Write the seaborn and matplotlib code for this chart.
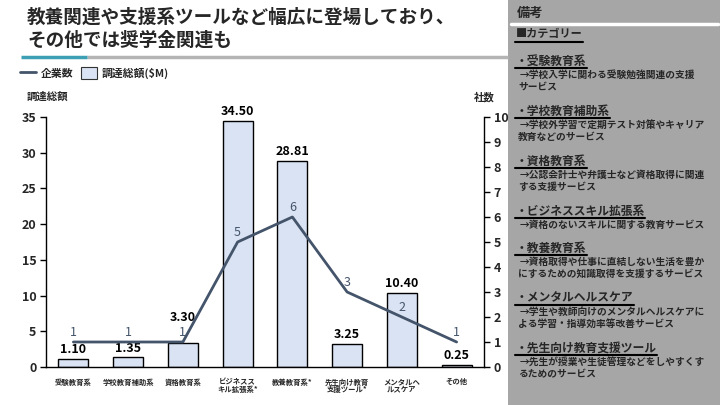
import numpy as np
import pandas as pd
import matplotlib
matplotlib.use("Agg")
import matplotlib.pyplot as plt
import seaborn as sns
from matplotlib.lines import Line2D
from matplotlib.patches import Patch, Rectangle

# ---- data ----
categories = ["受験教育系", "学校教育補助系", "資格教育系", "ビジネスス\nキル拡張系*",
              "教養教育系*", "先生向け教育\n支援ツール*", "メンタルヘ\nルスケア", "その他"]
amounts = [1.10, 1.35, 3.30, 34.50, 28.81, 3.25, 10.40, 0.25]
counts = [1, 1, 1, 5, 6, 3, 2, 1]
amount_ticks = [0, 5, 10, 15, 20, 25, 30, 35]
count_ticks = [0, 1, 2, 3, 4, 5, 6, 7, 8, 9, 10]

title_lines = ["教養関連や支援系ツールなど幅広に登場しており、", "その他では奨学金関連も"]
legend_labels = ["企業数", "調達総額($M)"]
left_label = "調達総額"
right_label = "社数"

notes_title = "備考"
notes_header = "■カテゴリー"
notes = [
    ("・受験教育系", ["→学校入学に関わる受験勉強関連の支援", "サービス"]),
    ("・学校教育補助系", ["→学校外学習で定期テスト対策やキャリア", "教育などのサービス"]),
    ("・資格教育系", ["→公認会計士や弁護士など資格取得に関連", "する支援サービス"]),
    ("・ビジネススキル拡張系", ["→資格のないスキルに関する教育サービス"]),
    ("・教養教育系", ["→資格取得や仕事に直結しない生活を豊か", "にするための知識取得を支援するサービス"]),
    ("・メンタルヘルスケア", ["→学生や教師向けのメンタルヘルスケアに", "よる学習・指導効率等改善サービス"]),
    ("・先生向け教育支援ツール", ["→先生が授業や生徒管理などをしやすくす", "るためのサービス"]),
]

# ---- style ----
sns.set_theme(style="white")
plt.rcParams['font.family'] = ['Noto Sans CJK JP', 'DejaVu Sans']

W, H = 720, 405
fig = plt.figure(figsize=(7.2, 4.05), dpi=100)
fig.patch.set_facecolor("white")


def fx(x):
    return x / W


def fy(y):
    return 1 - y / H


BAR_COLOR = "#dae3f3"
LINE_COLOR = "#44546a"
PANEL_COLOR = "#a6a6a6"

# right panel background
fig.add_artist(Rectangle((fx(508), 0), 1 - fx(508), 1, transform=fig.transFigure,
                         facecolor=PANEL_COLOR, edgecolor="none", zorder=0))

# title
fig.text(fx(27), fy(17), title_lines[0], fontsize=13.4, fontweight="bold", va="center", ha="left")
fig.text(fx(27), fy(40), title_lines[1], fontsize=13.4, fontweight="bold", va="center", ha="left")
fig.add_artist(Line2D([fx(87), fx(508)], [fy(57), fy(57)], transform=fig.transFigure,
                      color="#b4b4b4", linewidth=2.5, solid_capstyle="butt"))
fig.add_artist(Line2D([fx(21), fx(87)], [fy(57), fy(57)], transform=fig.transFigure,
                      color="#3c9fb4", linewidth=2.5, solid_capstyle="butt"))

# ---- chart ----
ax = fig.add_axes([fx(46), fy(367), 438 / W, 250 / H])
df = pd.DataFrame({"category": categories, "amount": amounts, "count": counts})
sns.barplot(data=df, x="category", y="amount", color=BAR_COLOR, saturation=1,
            edgecolor="black", linewidth=1, width=0.55, ax=ax, zorder=2)
ax.set_xlim(-0.5, len(categories) - 0.5)
ax.set_ylim(0, 35)
ax.set_yticks(amount_ticks)
ax.set_xlabel("")
ax.set_ylabel("")
for s in ["top", "right"]:
    ax.spines[s].set_visible(False)
for s in ["left", "bottom"]:
    ax.spines[s].set_color("black")
    ax.spines[s].set_linewidth(1)
ax.tick_params(axis="y", left=True, length=4, width=1, color="black", pad=3)
ax.tick_params(axis="x", bottom=False, pad=2)
for lab in ax.get_yticklabels():
    lab.set_fontsize(9)
    lab.set_fontweight("bold")
ax.set_xticks(range(len(categories)))
ax.set_xticklabels(categories, fontsize=5.3, fontweight="bold", linespacing=1.05)

ax2 = ax.twinx()
sns.lineplot(x=np.arange(len(counts)), y=counts, color=LINE_COLOR, linewidth=2, ax=ax2, zorder=3)
ax2.set_ylim(0, 10)
ax2.set_yticks(count_ticks)
ax2.set_ylabel("")
for s in ["top", "left", "bottom"]:
    ax2.spines[s].set_visible(False)
ax2.spines["right"].set_color("black")
ax2.spines["right"].set_linewidth(1)
ax2.tick_params(axis="y", right=True, length=4, width=1, color="black", pad=3)
for lab in ax2.get_yticklabels():
    lab.set_fontsize(9)
    lab.set_fontweight("bold")
ax.set_xlim(-0.5, len(categories) - 0.5)

# bar labels
for i, a in enumerate(amounts):
    off = 14 if i == 2 else 2
    ax.annotate(f"{a:.2f}", (i, a), xytext=(0, off), textcoords="offset points",
                ha="center", va="bottom", fontsize=9, fontweight="bold", color="black", zorder=5)

# line labels
for i, c in enumerate(counts):
    ax2.annotate(f"{c}", (i, c), xytext=(0, 7), textcoords="offset points",
                 ha="center", va="center", fontsize=9, color=LINE_COLOR, zorder=5)

# axis titles
fig.text(fx(27), fy(97), left_label, fontsize=7.5, fontweight="bold", va="center", ha="left")
fig.text(fx(484), fy(97), right_label, fontsize=7.5, fontweight="bold", va="center", ha="center")

# legend
handles = [Line2D([0], [0], color=LINE_COLOR, linewidth=2),
           Patch(facecolor=BAR_COLOR, edgecolor="#333333", linewidth=0.8)]
fig.legend(handles, legend_labels, loc="center left", bbox_to_anchor=(fx(20), fy(73)),
           ncol=2, frameon=False, prop={"size": 7.8, "weight": "bold"},
           handlelength=1.5, handleheight=1.3, handletextpad=0.4, columnspacing=0.7,
           borderaxespad=0, borderpad=0)

# ---- notes panel ----
texts_to_underline = []
fig.text(fx(517), fy(13), notes_title, fontsize=9.5, fontweight="bold", va="center", ha="left")
fig.add_artist(Line2D([fx(511), fx(718)], [fy(23.5), fy(23.5)], transform=fig.transFigure,
                      color="white", linewidth=2.5))
t = fig.text(fx(516), fy(34), notes_header, fontsize=8, fontweight="bold", va="center", ha="left")
texts_to_underline.append((t, 41.5))

y = 61
for head, lines in notes:
    t = fig.text(fx(516), fy(y), head, fontsize=8.5, fontweight="bold", va="center", ha="left")
    texts_to_underline.append((t, y + 7))
    for j, ln in enumerate(lines):
        xx = 520 if j == 0 else 518
        fig.text(fx(xx), fy(y + 14 + 12 * j), ln, fontsize=7, fontweight="bold", va="center", ha="left")
    y += 50 if len(lines) > 1 else 37

fig.canvas.draw()
renderer = fig.canvas.get_renderer()
for t, yy in texts_to_underline:
    bb = t.get_window_extent(renderer)
    fig.add_artist(Line2D([fx(515), bb.x1 / W], [fy(yy), fy(yy)], transform=fig.transFigure,
                          color="black", linewidth=1.5))

fig.savefig("out.png", dpi=100)
